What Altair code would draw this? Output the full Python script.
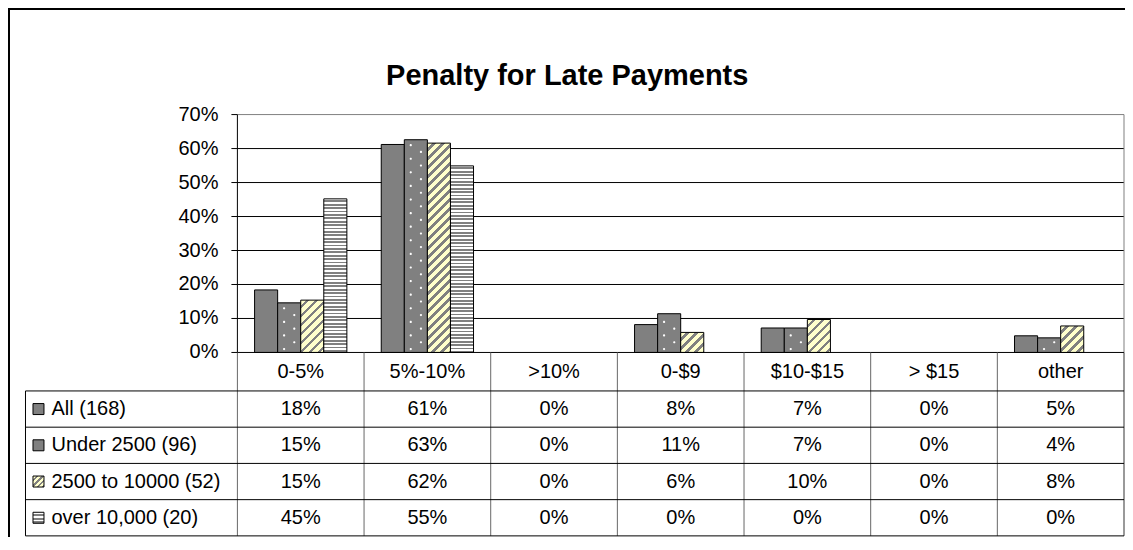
import altair as alt

# ---------------- data ----------------
title_text = "Penalty for Late Payments"
categories = ["0-5%", "5%-10%", ">10%", "0-$9", "$10-$15", "> $15", "other"]
series_names = ["All (168)", "Under 2500 (96)", "2500 to 10000 (52)", "over 10,000 (20)"]
all_168 = [18.4, 61.2, 0.0, 8.2, 7.2, 0.0, 4.9]
under_2500 = [14.6, 62.6, 0.0, 11.4, 7.2, 0.0, 4.3]
from_2500_to_10000 = [15.4, 61.6, 0.0, 5.9, 9.7, 0.0, 7.8]
over_10000 = [45.2, 54.9, 0.0, 0.0, 0.0, 0.0, 0.0]
y_ticks = [0, 10, 20, 30, 40, 50, 60, 70]

# ---------------- layout / style ----------------
W, H = 887, 238
Y_MAX = 70
PX_PER_PCT = H / Y_MAX
CAT_STEP = W / len(categories)
OFFSET_PAD = 0.745
BAR_W = CAT_STEP / (len(series_names) + 2 * OFFSET_PAD)
HEADER_Y = 257.25
ROWS_TOP, ROWS_BOTTOM = 276.5, 421.5
LEG_X = -212
FONT = "Liberation Sans"
GRAY = "#808080"
YELLOW = "#FFFFCC"
WHITE = "#FFFFFF"


def _stops(n, c_light, c_dark, dark_frac):
    stops = []
    k = 0
    while k < n:
        a = round(min(k / n, 1), 5)
        b = round(min((k + 1 - dark_frac) / n, 1), 5)
        c = round(min((k + 1) / n, 1), 5)
        stops += [{"offset": a, "color": c_light}, {"offset": b, "color": c_light},
                  {"offset": b, "color": c_dark}, {"offset": c, "color": c_dark}]
        k += 1
    return stops


def diag_fill(w, h, period=9.0, dark_frac=0.42):
    """upward diagonal stripes, drawn at 45 degrees on a box of w x h px"""
    n = (w + h) / period
    c = (w + h) / (w * w + h * h)
    return {"gradient": "linear", "x1": 0, "y1": 0, "x2": round(c * w, 6), "y2": round(c * h, 6),
            "stops": _stops(n, YELLOW, GRAY, dark_frac)}


def hstripe_fill(h, period=PX_PER_PCT, dark_frac=0.55):
    n = h / period
    return {"gradient": "linear", "x1": 0, "y1": 0, "x2": 0, "y2": 1,
            "stops": _stops(n, WHITE, GRAY, dark_frac)}


series_values = [all_168, under_2500, from_2500_to_10000, over_10000]

bar_records, cell_records, dot_records = [], [], []
for si, (s, vals) in enumerate(zip(series_names, series_values)):
    for c, v in zip(categories, vals):
        cell_records.append({"category": c, "series": s, "label": f"{v:.0f}%"})
        if v <= 0:
            continue
        h = v * PX_PER_PCT
        if si == 2:
            fill = diag_fill(BAR_W, h)
        elif si == 3:
            fill = hstripe_fill(h)
        else:
            fill = GRAY
        bar_records.append({"category": c, "series": s, "value": v / 100, "fill": fill})
        if si == 1:
            y, side = 1.0, 0
            while y < v - 0.6:
                dot_records.append({"category": c, "series": s, "y": y / 100, "side": side})
                y += 2.0
                side = 1 - side

icon_fills = [GRAY, GRAY, diag_fill(12, 12, period=6.0), hstripe_fill(12, period=4.0)]
legend_records = [{"series": s, "icon": f} for s, f in zip(series_names, icon_fills)]

# ---------------- shared encodings ----------------
XSCALE = alt.Scale(domain=categories, paddingInner=0, paddingOuter=0)
X = alt.X("category:N", scale=XSCALE, axis=None, title=None)
XOFF = alt.XOffset("series:N", scale=alt.Scale(domain=series_names, paddingInner=0,
                                                 paddingOuter=OFFSET_PAD))
YSCALE = alt.Scale(domain=[0, Y_MAX / 100], nice=False, zero=True)
YAXIS = alt.Axis(values=[t / 100 for t in y_ticks], format=".0%", tickSize=6, labelPadding=13,
                 labelFont=FONT, labelFontSize=20, labelColor="black", domainColor="black",
                 tickColor="black", domainWidth=1, tickWidth=1, grid=False, title=None,
                 labelOverlap=False, zindex=1, translate=0)


def yq(field):
    return alt.Y(f"{field}:Q", scale=YSCALE, axis=YAXIS, title=None, stack=None)


YROW_SCALE = alt.Scale(domain=series_names, range=[ROWS_TOP, ROWS_BOTTOM], paddingInner=0,
                       paddingOuter=0)
YROW = alt.Y("series:N", scale=YROW_SCALE, axis=None, title=None)

one = alt.Data(values=[{"k": 1}])

# ---------------- plot area ----------------
grid = alt.Chart(alt.Data(values=[{"t": t / 100} for t in y_ticks[1:-1]])).mark_rule(
    color="black", strokeWidth=1).encode(y=yq("t"))
top_border = alt.Chart(alt.Data(values=[{"t": y_ticks[-1] / 100}])).mark_rule(
    color=GRAY, strokeWidth=1).encode(y=yq("t"))
right_border = alt.Chart(one).mark_rule(color=GRAY, strokeWidth=1).encode(
    x=alt.value(W), y=alt.value(0), y2=alt.value(H))
bars = alt.Chart(alt.Data(values=bar_records)).mark_bar(
    stroke="black", strokeWidth=1, opacity=1).encode(
    x=X, xOffset=XOFF, y=yq("value"), y2=alt.datum(0),
    fill=alt.Fill("fill:N", scale=None))
DOT_L = "M -1.24 0 a 0.22 0.22 0 1 0 0.44 0 a 0.22 0.22 0 1 0 -0.44 0 Z"
DOT_R = "M 0.8 0 a 0.22 0.22 0 1 0 0.44 0 a 0.22 0.22 0 1 0 -0.44 0 Z"
dots_l = alt.Chart(alt.Data(values=dot_records)).transform_filter("datum.side == 0").mark_point(
    shape=DOT_L, size=100, filled=True, color=WHITE, opacity=1, strokeWidth=0).encode(
    x=X, xOffset=XOFF, y=yq("y"))
dots_r = alt.Chart(alt.Data(values=dot_records)).transform_filter("datum.side == 1").mark_point(
    shape=DOT_R, size=100, filled=True, color=WHITE, opacity=1, strokeWidth=0).encode(
    x=X, xOffset=XOFF, y=yq("y"))
zero_line = alt.Chart(alt.Data(values=[{"t": 0}])).mark_rule(color="black", strokeWidth=1).encode(
    y=yq("t"))

plot = alt.layer(grid, top_border, right_border, bars, dots_l, dots_r, zero_line)

# ---------------- data table ----------------
cat_data = alt.Data(values=[{"category": c} for c in categories])
ser_data = alt.Data(values=[{"series": s} for s in series_names])

vlines = alt.Chart(cat_data).mark_rule(color="#666666", strokeWidth=1).encode(
    x=alt.X("category:N", scale=XSCALE, bandPosition=0, axis=None, title=None),
    y=alt.value(H), y2=alt.value(ROWS_BOTTOM))
vline_right = alt.Chart(one).mark_rule(color="#333333", strokeWidth=1).encode(
    x=alt.value(W), y=alt.value(H), y2=alt.value(ROWS_BOTTOM))
vline_left = alt.Chart(one).mark_rule(color="black", strokeWidth=1).encode(
    x=alt.value(LEG_X), y=alt.value(ROWS_TOP), y2=alt.value(ROWS_BOTTOM))
hlines = alt.Chart(ser_data).mark_rule(color="black", strokeWidth=1).encode(
    y=alt.Y("series:N", scale=YROW_SCALE, bandPosition=0, axis=None, title=None),
    x=alt.value(LEG_X), x2=alt.value(W))
hline_bottom = alt.Chart(one).mark_rule(color="black", strokeWidth=1).encode(
    y=alt.value(ROWS_BOTTOM), x=alt.value(LEG_X), x2=alt.value(W))
header = alt.Chart(cat_data).mark_text(font=FONT, fontSize=20, color="black").encode(
    x=X, y=alt.value(HEADER_Y), text="category:N")
cells = alt.Chart(alt.Data(values=cell_records)).mark_text(
    font=FONT, fontSize=20, color="black").encode(x=X, y=YROW, text="label:N")
legend_text = alt.Chart(ser_data).mark_text(
    font=FONT, fontSize=20, color="black", align="left").encode(
    x=alt.value(-186), y=YROW, text="series:N")
legend_icons = alt.Chart(alt.Data(values=legend_records)).mark_square(
    size=121, stroke="black", strokeWidth=1, opacity=1, filled=True).encode(
    x=alt.value(-199), y=YROW, fill=alt.Fill("icon:N", scale=None))

table = alt.layer(vlines, vline_right, vline_left, hlines, hline_bottom, header, cells,
                  legend_text, legend_icons)

# ---------------- frame & title ----------------
frame_left = alt.Chart(one).mark_rule(color="black", strokeWidth=2).encode(
    x=alt.value(-228.5), y=alt.value(-105.5), y2=alt.value(440))
frame_top = alt.Chart(one).mark_rule(color="black", strokeWidth=2).encode(
    y=alt.value(-105.5), x=alt.value(-229.5), x2=alt.value(W + 2))
title = alt.Chart(alt.Data(values=[{"t": title_text}])).mark_text(
    font=FONT, fontSize=29, fontWeight="bold", color="black").encode(
    x=alt.value(330), y=alt.value(-39), text="t:N")

chart = alt.layer(frame_left, frame_top, title, plot, table).resolve_scale(
    y="independent").properties(
    width=W, height=H,
    autosize=alt.AutoSizeParams(type="none"),
    padding={"left": 229.5, "top": 106.5, "right": 1, "bottom": 184},
    background="white",
).configure_view(stroke=None)

chart.save("out.html", embed_options={"renderer": "svg", "actions": False})
